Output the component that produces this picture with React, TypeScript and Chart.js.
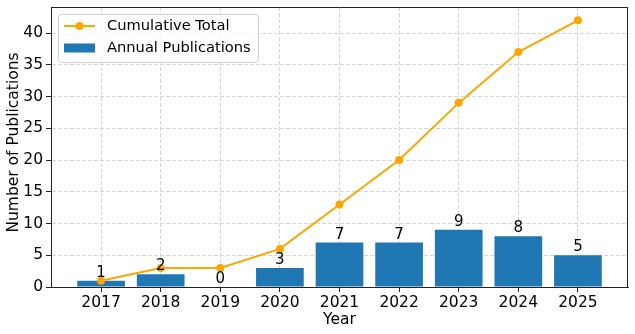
import React, { useEffect, useRef } from "react";
import { Chart, registerables } from "chart.js";

Chart.register(...registerables);

const years = ["2017", "2018", "2019", "2020", "2021", "2022", "2023", "2024", "2025"];
const annualPublications = [1, 2, 0, 3, 7, 7, 9, 8, 5];
const cumulativeTotal = [1, 3, 3, 6, 13, 20, 29, 37, 42];
const yTickValues = [0, 5, 10, 15, 20, 25, 30, 35, 40];
const yMax = 44.1;
const xMin = -0.84;
const xMax = 8.84;
const xAxisTitle = "Year";
const yAxisTitle = "Number of Publications";

const FONT = "DejaVu Sans";
const FS = 15.5;
const FS_LABEL = 15;
const FS_LEGEND = 14.67;
const BAR_COLOR = "#1f77b4";
const LINE_COLOR = "#FFA500";
const AXIS_COLOR = "#222222";

const barLabelPlugin = {
  id: "barLabels",
  afterDatasetsDraw(chart: any) {
    const meta = chart.getDatasetMeta(0);
    const ctx = chart.ctx;
    ctx.save();
    ctx.fillStyle = "#000";
    ctx.font = `${FS_LABEL}px "${FONT}"`;
    ctx.textAlign = "center";
    ctx.textBaseline = "alphabetic";
    meta.data.forEach((el: any, i: number) => {
      ctx.fillText(String(annualPublications[i]), el.x, el.y - 4);
    });
    ctx.restore();
  },
};

const framePlugin = {
  id: "frameAndLegend",
  afterDraw(chart: any) {
    const { ctx, chartArea } = chart;
    ctx.save();
    ctx.strokeStyle = AXIS_COLOR;
    ctx.lineWidth = 1;
    ctx.beginPath();
    ctx.moveTo(chartArea.left, chartArea.top + 0.5);
    ctx.lineTo(chartArea.right, chartArea.top + 0.5);
    ctx.moveTo(chartArea.right - 0.5, chartArea.top);
    ctx.lineTo(chartArea.right - 0.5, chartArea.bottom);
    ctx.stroke();

    // y axis title
    ctx.save();
    ctx.translate(13.5, (chartArea.top + chartArea.bottom) / 2 - 4.5);
    ctx.rotate(-Math.PI / 2);
    ctx.fillStyle = "#000";
    ctx.font = `${FS}px "${FONT}"`;
    ctx.textAlign = "center";
    ctx.textBaseline = "middle";
    ctx.fillText(yAxisTitle, 0, 0);
    ctx.restore();

    // legend box
    const bx = chartArea.left + 7;
    const by = chartArea.top + 7;
    const bw = 200;
    const bh = 48;
    ctx.beginPath();
    ctx.roundRect(bx + 0.5, by + 0.5, bw, bh, 3);
    ctx.fillStyle = "rgba(255,255,255,0.8)";
    ctx.fill();
    ctx.strokeStyle = "#d0d0d0";
    ctx.lineWidth = 1;
    ctx.stroke();

    const sx = bx + 6;
    const sw = 31;
    const r1 = by + 12;
    const r2 = by + 34;
    ctx.strokeStyle = LINE_COLOR;
    ctx.lineWidth = 2;
    ctx.beginPath();
    ctx.moveTo(sx, r1);
    ctx.lineTo(sx + sw, r1);
    ctx.stroke();
    ctx.fillStyle = LINE_COLOR;
    ctx.beginPath();
    ctx.arc(sx + sw / 2, r1, 4, 0, Math.PI * 2);
    ctx.fill();
    ctx.fillStyle = BAR_COLOR;
    ctx.fillRect(sx, r2 - 4.5, sw, 9);

    ctx.fillStyle = "#000";
    ctx.font = `${FS_LEGEND}px "${FONT}"`;
    ctx.textAlign = "left";
    ctx.textBaseline = "middle";
    ctx.fillText("Cumulative Total", sx + sw + 12, r1);
    ctx.fillText("Annual Publications", sx + sw + 12, r2);
    ctx.restore();
  },
};

export default function App() {
  const ref = useRef<HTMLCanvasElement | null>(null);

  useEffect(() => {
    if (!ref.current) return;
    const chart = new Chart(ref.current, {
      type: "bar",
      data: {
        datasets: [
          {
            type: "bar",
            label: "Annual Publications",
            data: annualPublications.map((v, i) => ({ x: i, y: v })),
            backgroundColor: BAR_COLOR,
            borderWidth: 0,
            barPercentage: 0.8,
            categoryPercentage: 1,
            order: 2,
          } as any,
          {
            type: "line",
            label: "Cumulative Total",
            data: cumulativeTotal.map((v, i) => ({ x: i, y: v })),
            borderColor: LINE_COLOR,
            backgroundColor: LINE_COLOR,
            borderWidth: 2,
            pointRadius: 4,
            pointBackgroundColor: LINE_COLOR,
            pointBorderWidth: 0,
            tension: 0,
            order: 1,
          } as any,
        ],
      },
      options: {
        responsive: false,
        animation: false,
        devicePixelRatio: 1,
        layout: { padding: { top: 7, right: 7, left: 0, bottom: 0 } },
        plugins: { legend: { display: false }, tooltip: { enabled: false } },
        scales: {
          x: {
            type: "linear",
            min: xMin,
            max: xMax,
            offset: false,
            afterBuildTicks: (scale: any) => {
              scale.ticks = years.map((_, i) => ({ value: i }));
            },
            afterFit: (scale: any) => {
              scale.height = 47;
              scale.paddingLeft = 0;
              scale.paddingRight = 0;
            },
            ticks: {
              autoSkip: false,
              maxRotation: 0,
              padding: 2,
              color: "#000",
              font: { family: FONT, size: FS },
              callback: (v: any) => years[Math.round(Number(v))],
            },
            grid: {
              color: "#cccccc",
              lineWidth: 0.8,
              offset: false,
              drawTicks: true,
              tickLength: 5,
              tickColor: AXIS_COLOR,
              tickWidth: 1,
            },
            border: { display: true, color: AXIS_COLOR, width: 1, dash: [4, 2] },
            title: {
              display: true,
              text: xAxisTitle,
              color: "#000",
              font: { family: FONT, size: FS },
              padding: { top: 0, bottom: 4.5 },
            },
          },
          y: {
            type: "linear",
            min: 0,
            max: yMax,
            afterBuildTicks: (scale: any) => {
              scale.ticks = yTickValues.map((v) => ({ value: v }));
            },
            afterFit: (scale: any) => {
              scale.width = 51;
              scale.paddingTop = 0;
              scale.paddingBottom = 0;
            },
            ticks: {
              padding: 3,
              color: "#000",
              font: { family: FONT, size: FS },
            },
            grid: {
              color: "#cccccc",
              lineWidth: 0.8,
              drawTicks: true,
              tickLength: 5,
              tickColor: AXIS_COLOR,
              tickWidth: 1,
            },
            border: { display: true, color: AXIS_COLOR, width: 1, dash: [4, 2] },
          },
        },
      } as any,
      plugins: [barLabelPlugin, framePlugin],
    });
    return () => chart.destroy();
  }, []);

  return (
    <div style={{ position: "fixed", left: 0, top: 0, width: 635, height: 334, background: "#fff" }}>
      <canvas ref={ref} width={635} height={334} style={{ display: "block" }} />
    </div>
  );
}
